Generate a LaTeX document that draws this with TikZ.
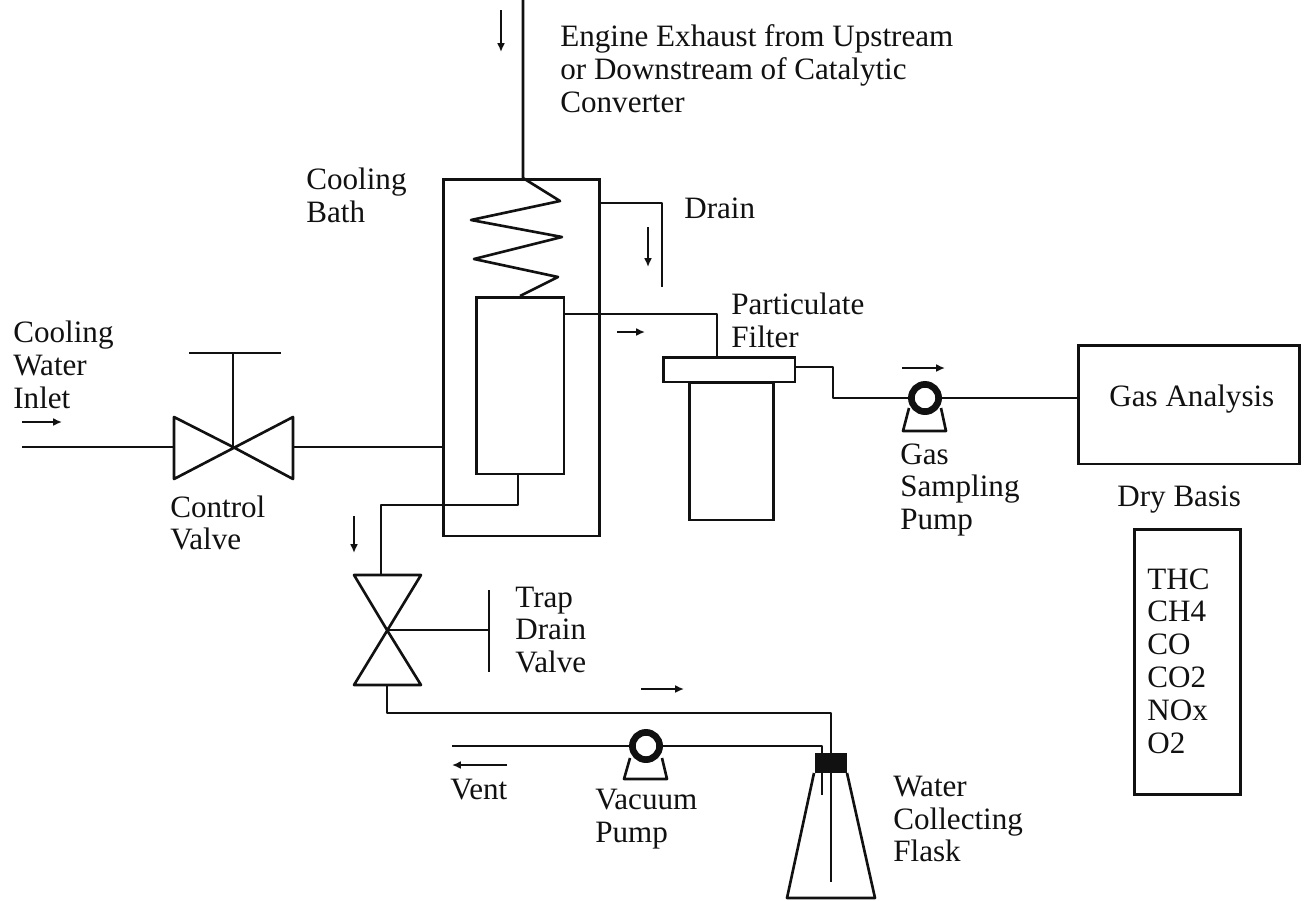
\documentclass[tikz,border=0pt]{standalone}
\usepackage{fontspec}
\setmainfont{Liberation Serif}
\usepackage{xcolor}
\usetikzlibrary{arrows.meta,calc}
\definecolor{ink}{HTML}{111111}
\tikzset{
  pipe/.style={ink,line width=1.5pt,line join=round},
  flow/.style={ink,line width=1.3pt,-{Latex[length=5pt,width=4.5pt]}},
  unit/.style={draw=ink,line width=1.5pt,rectangle,inner sep=0pt,anchor=north west},
  lbl/.style={anchor=west,align=left,inner sep=0pt,text=ink,font=\fontsize{17.7}{18.7}\selectfont},
  ring/.style={draw=ink,line width=3.8pt,circle,fill=white,inner sep=0pt,minimum size=15.5pt}
}
\begin{document}
\begin{tikzpicture}[x=0.02cm,y=-0.02cm,>=Latex]
\useasboundingbox (0,0) rectangle (1311,900);
\fill[white] (0,0) rectangle (1311,900);

% cooling bath and coil
\node[unit,minimum width=89pt,minimum height=203pt] (bath) at (442,178) {};
\node[unit,minimum width=50pt,minimum height=100.5pt] (trap) at (475,296) {};
\coordinate (engine) at (523,0);
\coordinate (coiltop) at (523,178);
\coordinate (coilend) at (520,296);
\draw[pipe] (engine)--(coiltop)--(560,201)--(471,220)--(562,237)--(474,259)--(558,277)--(coilend);
\draw[flow] (501,10)--(501,52);

% bath drain
\coordinate (drainA) at (600,203);
\coordinate (drainB) at (662,203);
\coordinate (drainC) at (662,287);
\draw[pipe] (drainA)--(drainB)--(drainC);
\draw[flow] (648,227)--(648,267);

% filter
\node[unit,minimum width=75pt,minimum height=14pt] (cap) at (662,356) {};
\node[unit,minimum width=48pt,minimum height=78.4pt] (bowl) at (688,381) {};
\coordinate (trapout) at (564,314);
\coordinate (capin) at (717,356);
\draw[pipe] (trapout)--(capin |- trapout)--(capin);
\draw[flow] (617,332)--(645,332);

% gas sampling pump
\node[ring] (gaspump) at (925,398) {};
\coordinate (capout) at (795,367);
\draw[pipe] (capout)--(833,367)--(833,398)--(gaspump.west);
\draw[pipe] (909,408)--(903,431)--(946,431)--(941,408);
\draw[flow] (902,368)--(945,368);

% analysers
\node[unit,minimum width=126pt,minimum height=67.5pt] (analysis) at (1077,344) {};
\node[unit,minimum width=60.4pt,minimum height=151pt] (species) at (1133,528) {};
\draw[pipe] (gaspump.east)--(analysis.west |- gaspump.east);

% control valve
\coordinate (ctlvalve) at (233,447);
\coordinate (inlet) at (22,447);
\coordinate (ctlhandleL) at (189,353);
\coordinate (ctlhandleR) at (281,353);
\draw[pipe] (ctlvalve)--(174,417)--(174,479)--(293,417)--(293,479)--cycle;
\draw[pipe] (ctlhandleL)--(ctlhandleR);
\draw[pipe] (ctlvalve)--(ctlvalve |- ctlhandleL);
\draw[pipe] (inlet)--(174,447);
\draw[pipe] (293,447)--(442,447);
\draw[flow] (22,422)--(62,422);

% trap drain valve
\coordinate (drnvalve) at (387,630);
\coordinate (drnhandleT) at (489,590);
\coordinate (drnhandleB) at (489,672);
\draw[pipe] (drnvalve)--(354,575)--(421,575)--(354,685)--(421,685)--cycle;
\draw[pipe] (drnhandleT)--(drnhandleB);
\draw[pipe] (drnvalve)--(drnvalve -| drnhandleT);
\coordinate (trapdrop) at (518,474);
\draw[pipe] (trapdrop)--(518,505)--(381,505)--(381,575);
\draw[flow] (354,516)--(354,553);

% flask
\fill[ink] (815,753) rectangle (847,773);
\coordinate (flaskin) at (831,882);
\coordinate (flaskout) at (822,795);
\draw[pipe] (387,685)--(387,713)--(831,713)--(flaskin);
\draw[pipe] (814,773)--(787,898)--(875,898)--(847,773);
\draw[flow] (641,689)--(684,689);

% vacuum pump
\node[ring] (vacpump) at (646,746) {};
\coordinate (vent) at (452,746);
\draw[pipe] (vent)--(vacpump.west);
\draw[pipe] (vacpump.east)--(822,746)--(flaskout);
\draw[pipe] (630,758)--(624,779)--(667,779)--(662,758);
\draw[flow] (507,765)--(452,765);

% labels
\node[lbl] (lblengine) at (560,69) {Engine Exhaust from Upstream\\or Downstream of Catalytic\\Converter};
\node[lbl] (lblbath) at (306,195) {Cooling\\Bath};
\node[lbl] (lbldrain) at (684,208) {Drain};
\node[lbl] (lblfilter) at (731,320) {Particulate\\Filter};
\node[lbl] (lblinlet) at (13,365) {Cooling\\Water\\Inlet};
\node[lbl] (lblctl) at (170,523) {Control\\Valve};
\node[lbl] (lblgaspump) at (900,490) {Gas\\Sampling\\Pump};
\node[lbl] (lblanalysis) at (1109,399) {Gas Analysis};
\node[lbl] (lbldry) at (1117,500) {Dry Basis};
\node[lbl] (lblspecies) at (1147,661) {THC\\CH4\\CO\\CO2\\NOx\\O2};
\node[lbl] (lbltrap) at (515,630) {Trap\\Drain\\Valve};
\node[lbl] (lblvent) at (450,790) {Vent};
\node[lbl] (lblvac) at (595,819) {Vacuum\\Pump};
\node[lbl] (lblflask) at (893,819) {Water\\Collecting\\Flask};
\end{tikzpicture}
\end{document}
